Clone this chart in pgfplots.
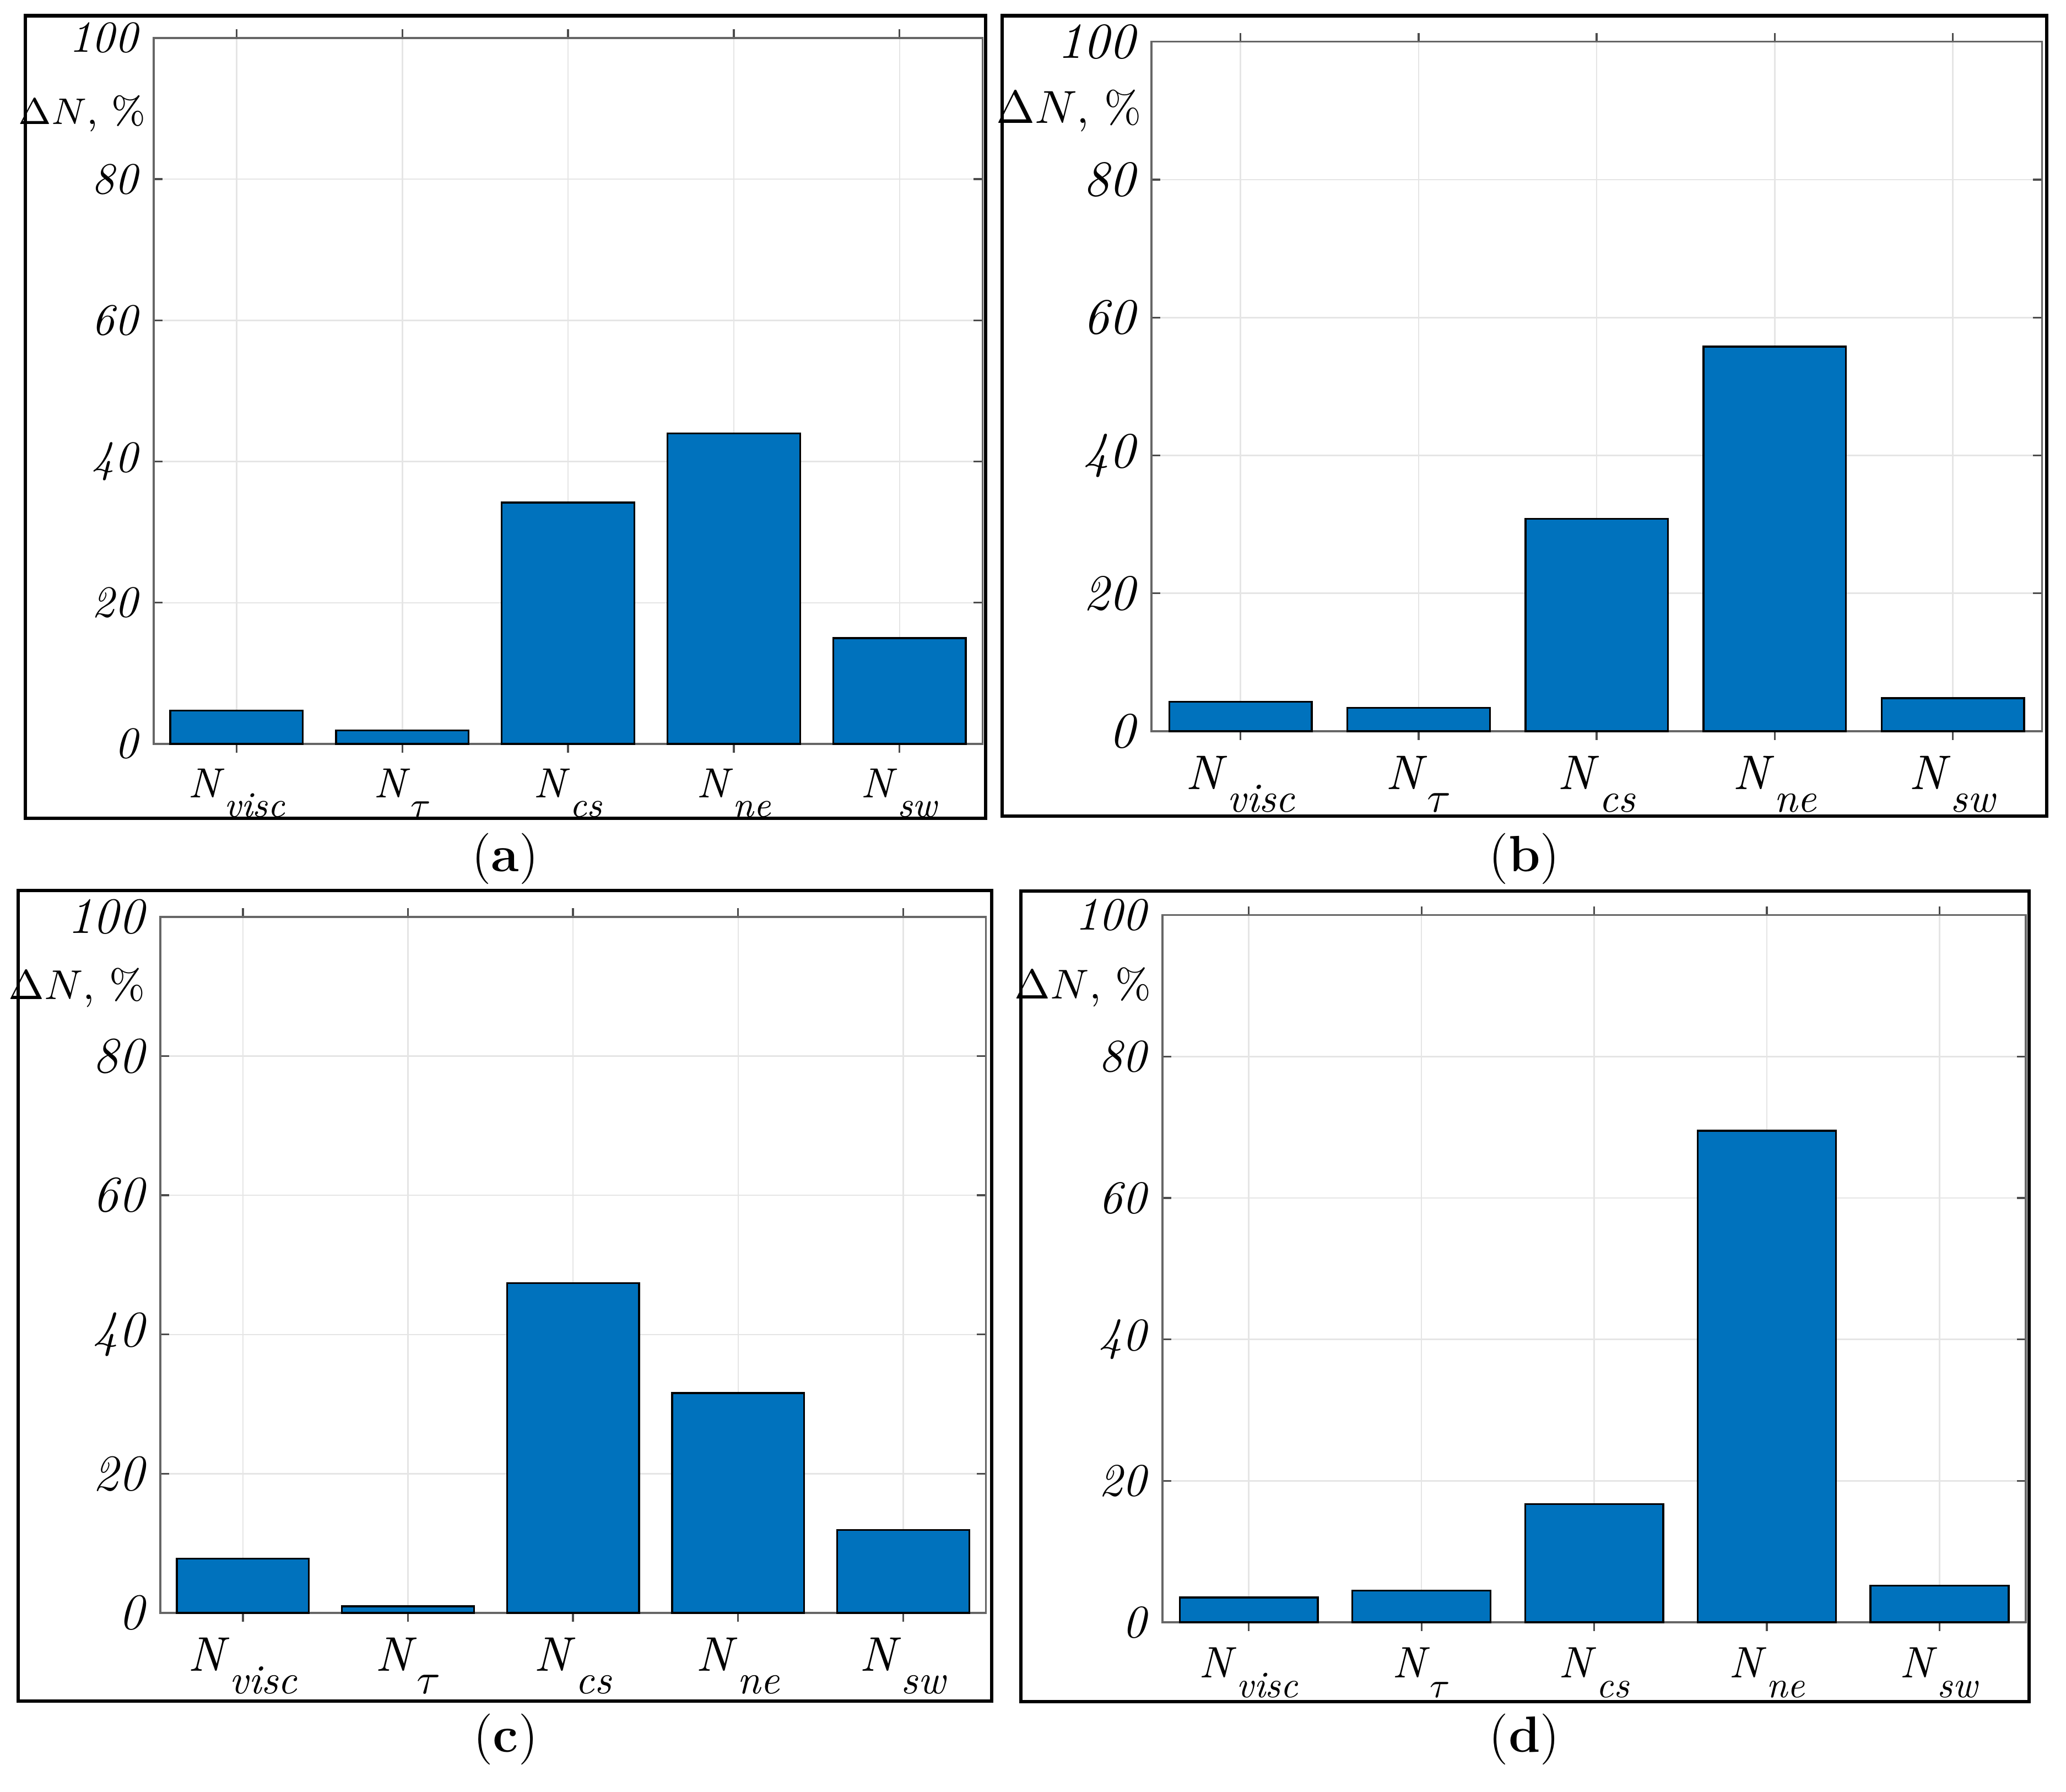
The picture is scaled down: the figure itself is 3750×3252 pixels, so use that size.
\documentclass[border=0pt]{standalone}
\usepackage{pgfplots}
\pgfplotsset{compat=1.18}
\definecolor{barblue}{RGB}{0,114,189}
\newcommand{\Nl}[1]{\textit{N}\raisebox{-0.46em}{\scalebox{0.85}{\textit{#1}}}}
\newcommand{\Nt}{\textit{N}\raisebox{-0.46em}{\scalebox{0.85}{$\tau$}}}
\tikzset{dlabel/.style={anchor=east, inner sep=0pt}}
\pgfplotsset{
  panel/.style={
    scale only axis, clip=false, anchor=south west,
    xmin=0.5, xmax=5.5, ymin=0, ymax=100,
    xtick={1,2,3,4,5}, ytick={0,20,40,60,80,100},
    xticklabels={\Nl{visc},\Nt,\Nl{cs},\Nl{ne},\Nl{sw}},
    xmajorgrids, ymajorgrids,
    grid style={black!10, line width=0.3pt},
    axis line style={black!60, line width=0.4pt},
    tick style={black!70, line width=0.4pt},
    major tick length=0.66mm,
    /pgf/number format/assume math mode=true,
    ybar, bar width=0.8,
    cycle list={{fill=barblue, draw=black, line width=0.4pt}},
  },
}
\begin{document}
\begin{tikzpicture}
\begin{scope}[x=0.041813mm, y=-0.041813mm]
  \path (0,0) rectangle (3750,3252);
  \coordinate (A) at (279,1350);
  \coordinate (B) at (2090,1327);
  \coordinate (C) at (291,2927);
  \coordinate (D) at (2110,2944);
  % panel frames
  \draw[line width=0.75pt] (46,28.5) rectangle (1789,1485);
  \draw[line width=0.75pt] (1819,28.5) rectangle (3715,1481);
  \draw[line width=0.75pt] (33,1616) rectangle (1800,3087);
  \draw[line width=0.75pt] (1853,1617) rectangle (3683,3088);
  % captions
  \node[font=\fontsize{11}{13}\selectfont] at (917,1558) {(\textbf{a})};
  \node[font=\fontsize{11}{13}\selectfont] at (2767,1558) {(\textbf{b})};
  \node[font=\fontsize{11}{13}\selectfont] at (918,3156) {(\textbf{c})};
  \node[font=\fontsize{11}{13}\selectfont] at (2767,3156) {(\textbf{d})};
\end{scope}

% (a)
\begin{axis}[panel, at={(A)}, width=62.89mm, height=53.56mm,
  yticklabel style={font=\fontsize{9.6}{11}\selectfont\itshape},
  xticklabel style={font=\fontsize{9.1}{11}\selectfont, yshift=0pt}]
\addplot coordinates {(1,4.7) (2,1.9) (3,34.2) (4,44.0) (5,15.0)};
\node[dlabel, font=\fontsize{8.3}{10}\selectfont, xshift=-0.54mm] at (rel axis cs:0,0.893) {$\Delta N$, \%};
\end{axis}

% (b)
\begin{axis}[panel, at={(B)}, width=67.57mm, height=52.31mm,
  yticklabel style={font=\fontsize{10.9}{13}\selectfont\itshape},
  xticklabel style={font=\fontsize{10.5}{12}\selectfont, yshift=0pt}]
\addplot coordinates {(1,4.3) (2,3.4) (3,30.8) (4,55.8) (5,4.8)};
\node[dlabel, font=\fontsize{9.6}{12}\selectfont, xshift=-0.71mm] at (rel axis cs:0,0.9) {$\Delta N$, \%};
\end{axis}

% (c)
\begin{axis}[panel, at={(C)}, width=62.64mm, height=52.81mm,
  yticklabel style={font=\fontsize{11}{13}\selectfont\itshape},
  xticklabel style={font=\fontsize{10.5}{12}\selectfont, yshift=0pt}]
\addplot coordinates {(1,7.8) (2,0.95) (3,47.4) (4,31.6) (5,11.9)};
\node[dlabel, font=\fontsize{9}{11}\selectfont, xshift=-1.09mm] at (rel axis cs:0,0.898) {$\Delta N$, \%};
\end{axis}

% (d)
\begin{axis}[panel, at={(D)}, width=65.52mm, height=53.65mm,
  yticklabel style={font=\fontsize{10}{12}\selectfont\itshape},
  xticklabel style={font=\fontsize{9.5}{11}\selectfont, yshift=0pt}]
\addplot coordinates {(1,3.5) (2,4.5) (3,16.7) (4,69.5) (5,5.2)};
\node[dlabel, font=\fontsize{9}{11}\selectfont, xshift=-0.79mm] at (rel axis cs:0,0.898) {$\Delta N$, \%};
\end{axis}
\end{tikzpicture}
\end{document}
